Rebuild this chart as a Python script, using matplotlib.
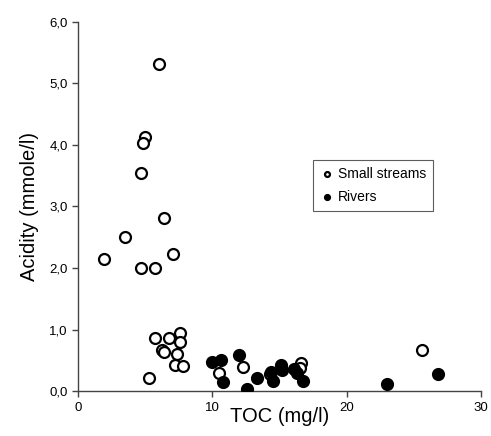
import matplotlib
matplotlib.use("Agg")
import matplotlib.pyplot as plt
import numpy as np

plt.rcParams['font.family'] = ['Liberation Sans', 'DejaVu Sans']

# small streams (open circles)
streams_toc = [6.06, 5.0, 4.8, 4.65, 3.5, 1.9, 6.36, 4.65, 5.7, 7.1,
               5.74, 6.8, 7.55, 7.55, 6.23, 6.36, 7.37, 7.2, 7.84, 5.27,
               10.47, 12.25, 16.6, 16.5, 25.6, 14.3]
streams_acid = [5.32, 4.13, 4.03, 3.54, 2.51, 2.14, 2.82, 2.0, 2.0, 2.23,
                0.86, 0.86, 0.95, 0.80, 0.67, 0.64, 0.61, 0.42, 0.40, 0.21,
                0.30, 0.39, 0.45, 0.38, 0.67, 0.28]

# rivers (filled circles)
rivers_toc = [10.0, 10.67, 10.8, 11.96, 12.6, 13.35, 14.36, 14.5, 15.08,
              15.2, 16.1, 16.3, 16.75, 23.0, 26.8]
rivers_acid = [0.48, 0.51, 0.15, 0.58, 0.04, 0.21, 0.31, 0.16, 0.42,
               0.35, 0.36, 0.30, 0.17, 0.11, 0.27]

fig = plt.figure(figsize=(4.91, 4.36), dpi=100)
ax = fig.add_axes([0.159, 0.103, 0.821, 0.847])

ax.scatter(streams_toc, streams_acid, s=62, facecolors='white',
           edgecolors='black', linewidths=1.6, label='Small streams', zorder=3)
ax.scatter(rivers_toc, rivers_acid, s=62, facecolors='black',
           edgecolors='black', linewidths=1.6, label='Rivers', zorder=4)

ax.set_xlim(0, 30)
ax.set_ylim(0, 6)
ax.set_xticks([0, 10, 20, 30])
ax.set_yticks(np.arange(0, 7, 1))
ax.set_yticklabels(['%d,0' % v for v in range(7)])

for s in ['top', 'right']:
    ax.spines[s].set_visible(False)
for s in ['left', 'bottom']:
    ax.spines[s].set_color('#444444')
    ax.spines[s].set_linewidth(1.0)
ax.tick_params(direction='out', length=4, width=1.0, colors='#444444',
               labelcolor='black', labelsize=9.5)

ax.set_xlabel('TOC (mg/l)', fontsize=14.5, labelpad=-5)
ax.set_ylabel('Acidity (mmole/l)', fontsize=14.5, labelpad=7)

leg = ax.legend(loc='upper left', bbox_to_anchor=(0.583, 0.626), frameon=True,
                fancybox=False, edgecolor='#333333', fontsize=10,
                markerscale=0.45, handletextpad=0.3, handlelength=1.0,
                borderpad=0.5, labelspacing=0.65, borderaxespad=0)
leg.get_frame().set_linewidth(0.8)

fig.savefig('out.png', dpi=100)
